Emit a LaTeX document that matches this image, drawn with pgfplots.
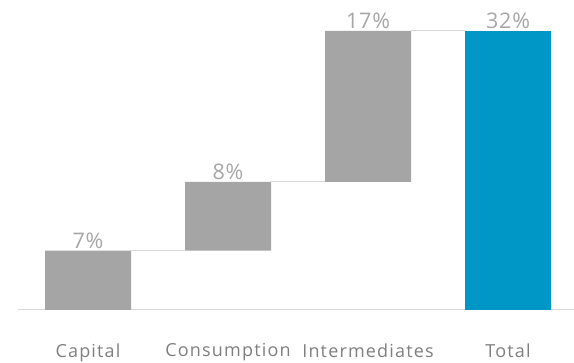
\documentclass[border=0pt]{standalone}
\usepackage{fontspec}
\setmainfont{Open Sans}
\newfontfamily\lblfont[LetterSpace=6.5]{Open Sans}
\newfontfamily\valfont[LetterSpace=4]{Open Sans}
\usepackage{pgfplots}
\pgfplotsset{compat=1.18}
\definecolor{barGray}{HTML}{A5A5A5}
\definecolor{barBlue}{HTML}{0096C6}
\definecolor{lblGray}{HTML}{A6A6A6}
\definecolor{catGray}{HTML}{7F7F7F}
\definecolor{lineGray}{HTML}{D9D9D9}
\pgfplotsset{wf/.style={
  width=556pt, height=310pt, scale only axis,
  xmin=-0.5, xmax=3.471, ymin=0, ymax=35.55,
  clip=false,
}}
\begin{document}
\begin{tikzpicture}
\useasboundingbox (-18pt,-53pt) rectangle (556pt,310pt);
% connectors and baseline
\begin{axis}[wf, axis lines=none]
\addplot[lineGray, line width=1pt] coordinates {(0.307,6.8) (0.693,6.8)};
\addplot[lineGray, line width=1pt] coordinates {(1.307,14.7) (1.693,14.7)};
\addplot[lineGray, line width=1pt] coordinates {(2.307,32) (2.693,32)};
\addplot[lineGray, line width=1pt] coordinates {(-0.5,0) (3.471,0)};
\end{axis}
% bars
\begin{axis}[wf, ybar stacked, bar width=86pt, axis lines=none]
\addplot[draw=none, fill=none] coordinates {(0,0) (1,6.8) (2,14.7) (3,0)};
\addplot[fill=barGray, draw=none] coordinates {(0,6.8) (1,7.9) (2,17.3) (3,0)};
\addplot[fill=barBlue, draw=none] coordinates {(0,0) (1,0) (2,0) (3,32)};
\end{axis}
% labels
\begin{axis}[wf,
  axis line style={draw=none},
  xtick={0,1,2,3},
  xticklabels={Capital,Consumption,Intermediates,Total},
  ytick=\empty,
  major tick length=0pt,
  xticklabel style={font=\lblfont\fontsize{18}{20}\selectfont, text=catGray, anchor=north, yshift=-30pt},
  nodes near coords, point meta=explicit symbolic,
  every node near coord/.append style={font=\valfont\fontsize{21.5}{24}\selectfont, text=lblGray, inner sep=0pt, anchor=south, yshift=2pt},
]
\addplot[only marks, mark=none] coordinates {(0,6.8) [7\%] (1,14.7) [8\%] (2,32) [17\%] (3,32) [32\%]};
\end{axis}
\end{tikzpicture}
\end{document}
